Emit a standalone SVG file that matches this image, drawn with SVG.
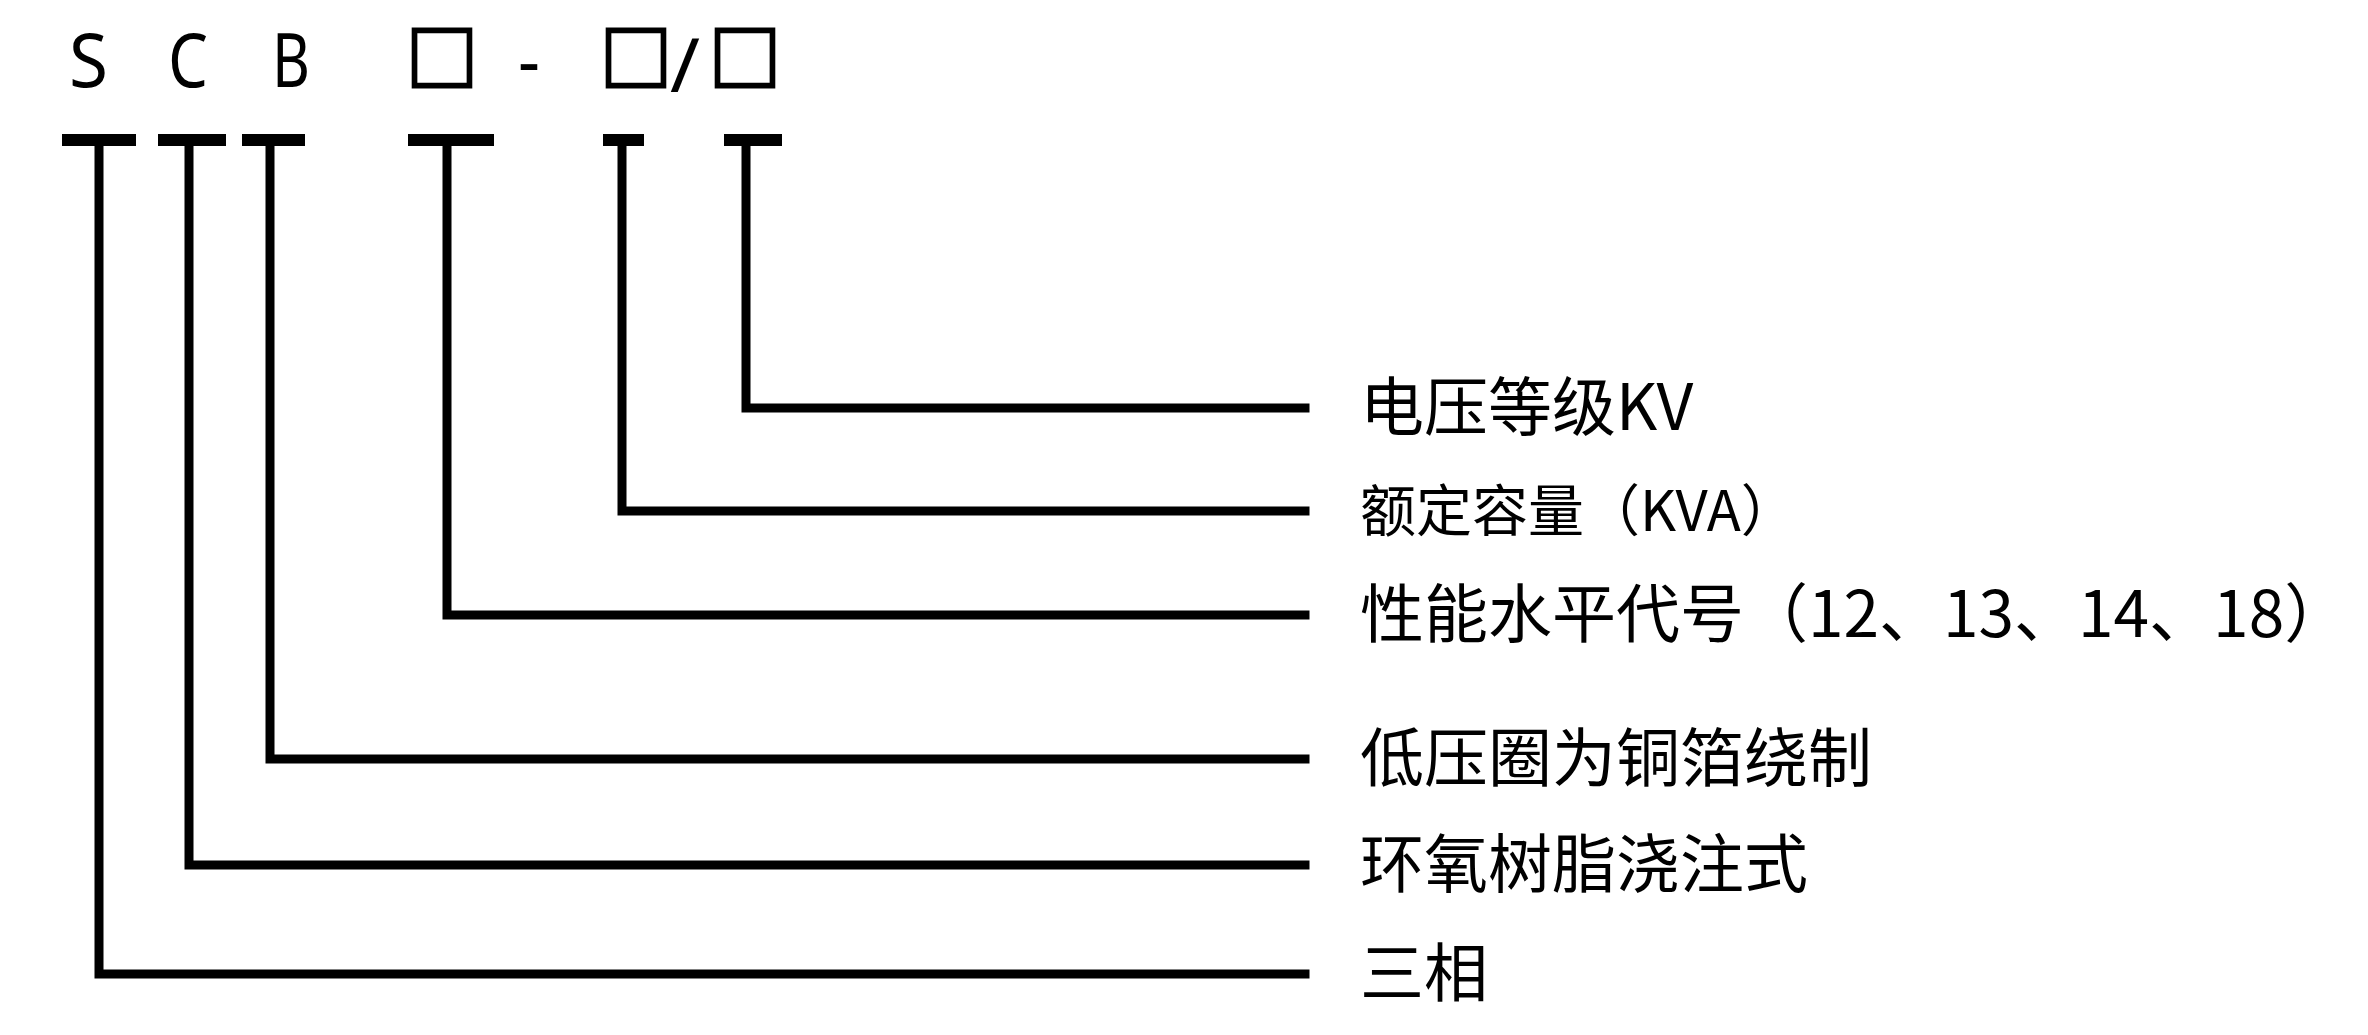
<svg xmlns="http://www.w3.org/2000/svg" width="2368" height="1035" viewBox="0 0 2368 1035">
<style>
.code{font-family:"Noto Sans","Noto Sans CJK SC",sans-serif;font-size:74px;fill:#000}
.box{font-family:"Noto Sans CJK SC",sans-serif;font-size:72px;fill:#000;stroke:#000;stroke-width:3}
.lbl{font-family:"Noto Sans CJK SC",sans-serif;font-size:64px;fill:#000}
.ln{stroke:#000;stroke-width:9;fill:none;stroke-linecap:square}
.bar{stroke:#000;stroke-width:12;fill:none}
</style>
<rect width="2368" height="1035" fill="#fff"/>
<g id="code">
<text class="code" x="69" y="87" textLength="39" lengthAdjust="spacingAndGlyphs">S</text>
<text class="code" x="168" y="87" textLength="40" lengthAdjust="spacingAndGlyphs">C</text>
<text class="code" x="272" y="87" textLength="38" lengthAdjust="spacingAndGlyphs">B</text>
<text class="box" x="406" y="85">□</text>
<text class="code" x="518" y="87" textLength="22" lengthAdjust="spacingAndGlyphs">-</text>
<text class="box" x="600" y="85">□</text>
<text class="code" x="670" y="92" textLength="30" lengthAdjust="spacingAndGlyphs">/</text>
<text class="box" x="709" y="85">□</text>
</g>
<g id="connectors">
<path class="bar" d="M62 140H136M158 140H226M242 140H305M408 140H494M603 140H644M724 140H782"/>
<path class="ln" d="M99 140V974H1305"/>
<path class="ln" d="M189 140V865H1305"/>
<path class="ln" d="M270 140V759H1305"/>
<path class="ln" d="M447 140V615H1305"/>
<path class="ln" d="M622 140V511H1305"/>
<path class="ln" d="M746 140V408H1305"/>
</g>
<g id="n1"><text class="lbl" x="1360" y="430">电压等级KV</text></g>
<g id="n2"><text class="lbl" x="1360" y="531" style="font-size:56px">额定容量（KVA）</text></g>
<g id="n3"><text class="lbl" x="1360" y="637">性能水平代号（12、13、14、18）</text></g>
<g id="n4"><text class="lbl" x="1360" y="781">低压圈为铜箔绕制</text></g>
<g id="n5"><text class="lbl" x="1360" y="887">环氧树脂浇注式</text></g>
<g id="n6"><text class="lbl" x="1360" y="996">三相</text></g>
</svg>
